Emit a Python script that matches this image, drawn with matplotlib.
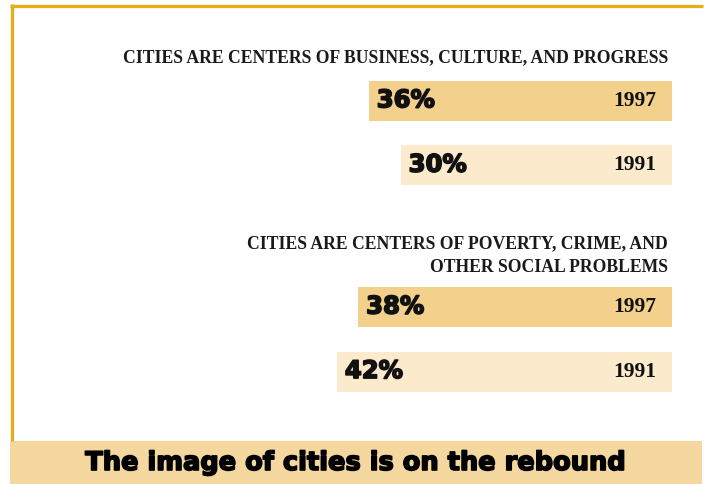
import numpy as np
import matplotlib
matplotlib.use("Agg")
import matplotlib.pyplot as plt
from matplotlib.patches import Rectangle
import matplotlib.patheffects as pe

# Survey results: share agreeing with each statement, by year
statements = [
    "CITIES ARE CENTERS OF BUSINESS, CULTURE, AND PROGRESS",
    "CITIES ARE CENTERS OF POVERTY, CRIME, AND\nOTHER SOCIAL PROBLEMS",
]
years = ["1997", "1991", "1997", "1991"]
values = [36, 30, 38, 42]
headline = "The image of cities is on the rebound"

W, H = 707, 484
DPI = 100
fig = plt.figure(figsize=(W / DPI, H / DPI), dpi=DPI)
fig.patch.set_facecolor("white")

gold = "#E8AC14"
bar_dark = "#F3D08B"
bar_light = "#FBEACC"
banner = "#F5D8A0"

serif = ["Liberation Serif", "DejaVu Serif"]
heavy = ["DejaVu Sans"]

# Background canvas in pixel units for frame, banner and headings
bg = fig.add_axes([0, 0, 1, 1], zorder=0)
bg.set_xlim(0, W)
bg.set_ylim(H, 0)
bg.axis("off")
bg.plot([10, 703], [5.5, 5.5], color=gold, lw=2.3, solid_capstyle="butt")
bg.plot([11.5, 11.5], [4, 441], color=gold, lw=2.3, solid_capstyle="butt")
bg.add_patch(Rectangle((10, 441), 692, 43, facecolor=banner, edgecolor="none"))
bg.text(356, 463, headline, ha="center", va="center", fontsize=18.5,
        family=heavy, weight="bold", color="black",
        path_effects=[pe.withStroke(linewidth=1.2, foreground="black")])

bg.text(668, 58, statements[0], ha="right", va="center", fontsize=12.7,
        family=serif, weight="bold", color="#1a1a1a")
bg.text(668, 255.5, statements[1], ha="right", va="center", fontsize=12.7,
        family=serif, weight="bold", color="#1a1a1a", multialignment="right",
        linespacing=1.57)

# Bars grow leftwards from a common right edge
rows = np.array([0, 1, 3.2, 4.2])
base = 21
ax = fig.add_axes([300 / W, (H - 404) / H, 372 / W, (404 - 68.75) / H], zorder=1)
ax.patch.set_alpha(0)
vals = np.array(values, dtype=float)
colors = [bar_dark if y == "1997" else bar_light for y in years]
ax.barh(rows, vals + base, left=-base, height=0.62, color=colors, edgecolor="none")
ax.set_xlim(49, -base)
ax.set_ylim(4.7, -0.5)
ax.axis("off")

for r, v, yr in zip(rows, vals, years):
    ax.annotate(f"{int(v)}%", xy=(v, r), xytext=(5.5, 0.5), textcoords="offset points",
                ha="left", va="center", fontsize=17.5, family=heavy, weight="bold",
                color="#111111",
                path_effects=[pe.withStroke(linewidth=1.2, foreground="#111111")])
    ax.annotate(yr, xy=(-base, r), xytext=(-11.5, 0), textcoords="offset points",
                ha="right", va="center", fontsize=15.5, family=serif, weight="bold",
                color="#111111")

fig.savefig("out.png", dpi=DPI, facecolor="white")
